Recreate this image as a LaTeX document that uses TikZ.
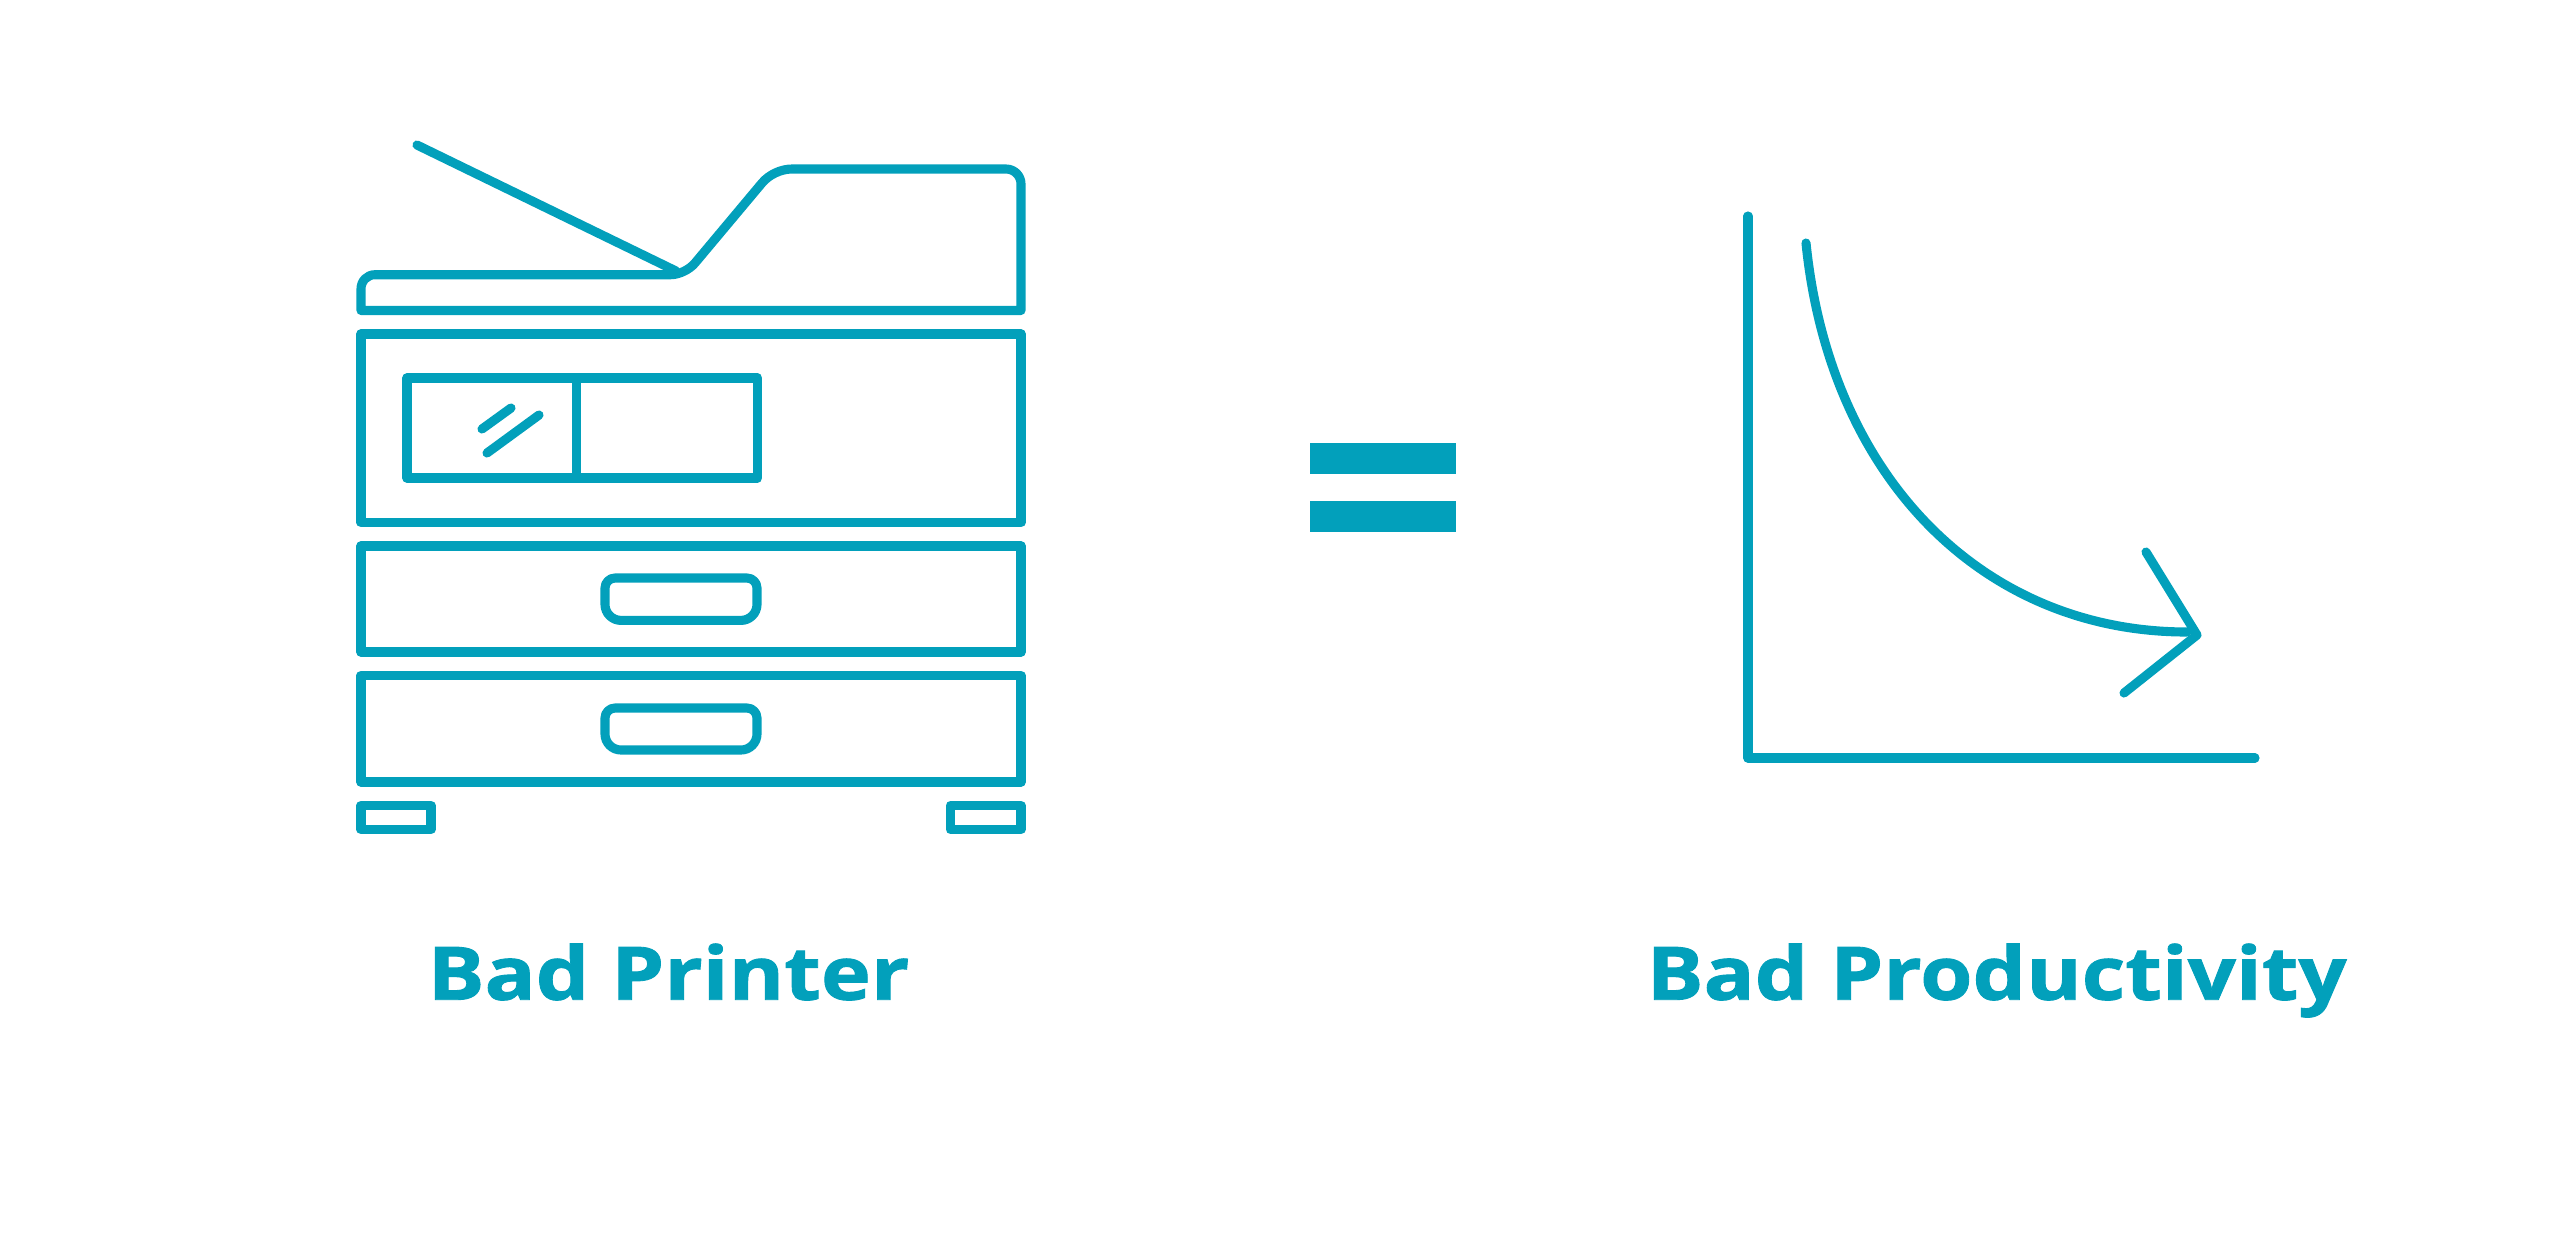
\documentclass[tikz,border=0pt]{standalone}
\usepackage{fontspec}
\setmainfont{Open Sans}
\newfontfamily\labfont[FakeBold=1.2,FakeStretch=1.147]{Open Sans Bold}
\definecolor{teal}{HTML}{02A0BB}
\tikzset{
  x=0.28pt,y=-0.28pt,
  ink/.style={draw=teal,line width=2.55pt,line cap=round,line join=round},
  lab/.style={text=teal,inner sep=0pt,anchor=base west,font=\labfont\fontsize{20.66pt}{23pt}\selectfont}
}
\begin{document}
\begin{tikzpicture}
\useasboundingbox (0,0) rectangle (2560,1234);
% coordinates
\coordinate (tailstart) at (417,145);
\coordinate (tailend) at (676,271);
\coordinate (axtop) at (1748,216);
\coordinate (axcorner) at (1748,758);
\coordinate (axright) at (2255,758);
\coordinate (curvestart) at (1806,243);
\coordinate (curveend) at (2187,632);
\coordinate (tip) at (2197,635);
\coordinate (headtop) at (2146,552);
\coordinate (headbottom) at (2124,693);
\coordinate (g1a) at (511,408); \coordinate (g1b) at (482,429);
\coordinate (g2a) at (539,415); \coordinate (g2b) at (487,453);
% lid
\draw[ink] (tailstart) -- (tailend);
\draw[ink] (361,310.5) -- (361,289) .. controls (361,281) and (367,274.7) .. (375,274.7) -- (670.7,274.7)
  .. controls (679,274.7) and (689.5,269.6) .. (695,263) -- (762,183) .. controls (769,174.6) and (781,169) .. (792,169)
  -- (1006,169) .. controls (1014.3,169) and (1021,175.7) .. (1021,184) -- (1021,310.5) -- cycle;
% body
\draw[ink] (361,334) rectangle (1021,522.5);
\draw[ink] (407,378) rectangle (757.5,478);
\draw[ink] (576.5,378) -- (576.5,478);
\draw[ink] (g1a) -- (g1b);
\draw[ink] (g2a) -- (g2b);
% drawers
\draw[ink] (361,546) rectangle (1021,652);
\draw[ink] (361,675.5) rectangle (1021,782);
\draw[ink] (615,578) -- (747,578) .. controls (752.5,578) and (757,582.5) .. (757,588) -- (757,604.4)
  .. controls (757,613.2) and (749.8,620.4) .. (741,620.4) -- (621,620.4) .. controls (612.2,620.4) and (605,613.2) .. (605,604.4)
  -- (605,588) .. controls (605,582.5) and (609.5,578) .. (615,578) -- cycle;
\draw[ink] (615,708) -- (747,708) .. controls (752.5,708) and (757,712.5) .. (757,718) -- (757,734)
  .. controls (757,742.8) and (749.8,750) .. (741,750) -- (621,750) .. controls (612.2,750) and (605,742.8) .. (605,734)
  -- (605,718) .. controls (605,712.5) and (609.5,708) .. (615,708) -- cycle;
% feet
\draw[ink] (361,805.5) rectangle (431,829.5);
\draw[ink] (950.5,805.5) rectangle (1021,829.5);
% equals
\fill[teal] (1310,443) rectangle (1456,473.5);
\fill[teal] (1310,501) rectangle (1456,531.5);
% chart
\draw[ink] (axtop) -- (axcorner) -- (axright);
\draw[ink] (curvestart) .. controls (1830,480) and (1985,632) .. (curveend);
\draw[ink] (headtop) -- (tip) -- (headbottom);
% labels
\node[lab] (printer) at (427,999.7) {Bad Printer};
\node[lab] (productivity) at (1646,999.7) {Bad Productivity};
\end{tikzpicture}
\end{document}
